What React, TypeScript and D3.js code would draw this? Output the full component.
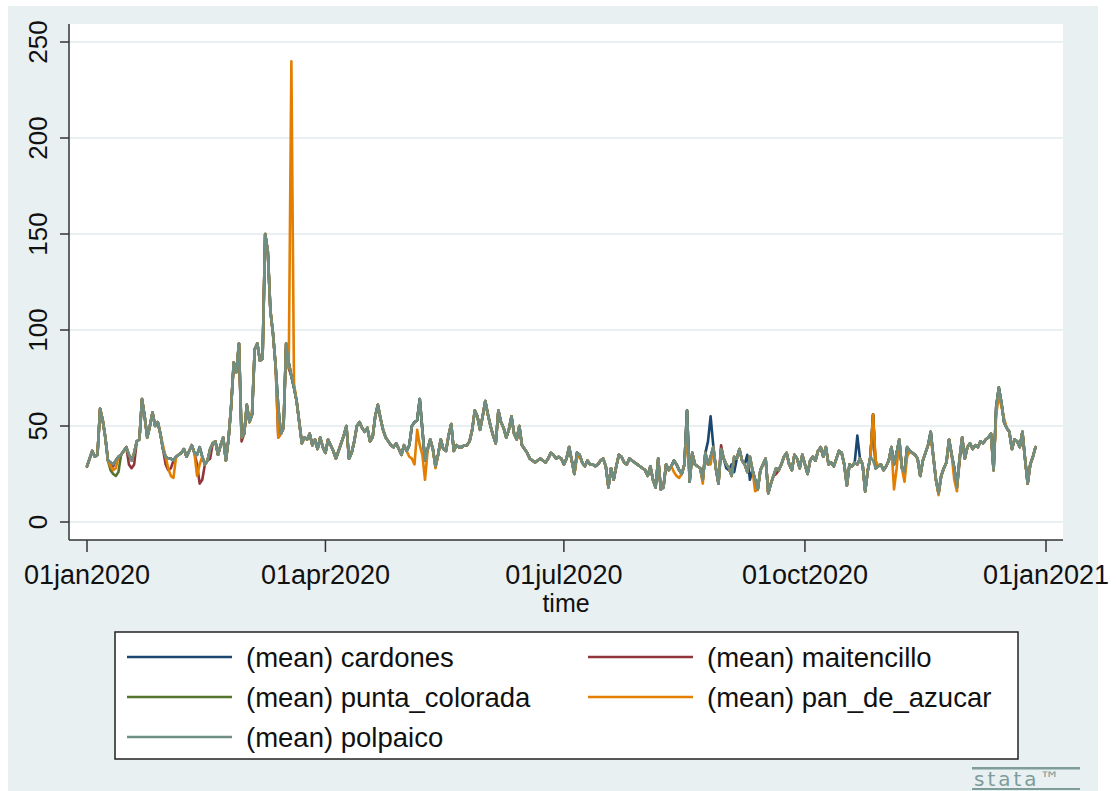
import React from "react";
import * as d3 from "d3";

// Daily readings, 01jan2020 .. 28dec2020 (polpaico, drawn on top)
const polpaico: number[] = [
  29, 33, 37, 34, 35, 59, 53, 44, 32, 31,
  30, 32, 34, 35, 37, 39, 35, 32, 36, 42,
  43, 64, 55, 44, 50, 57, 50, 52, 46, 38,
  34, 33, 33, 32, 34, 35, 36, 38, 34, 37,
  40, 36, 35, 39, 34, 30, 32, 38, 41, 42,
  35, 40, 44, 32, 43, 60, 83, 78, 93, 44,
  46, 61, 52, 56, 90, 93, 84, 85, 150, 141,
  110, 98, 81, 60, 46, 49, 93, 83, 76, 70,
  63, 52, 41, 44, 43, 46, 40, 43, 38, 44,
  39, 36, 43, 40, 37, 33, 37, 41, 45, 50,
  33, 36, 42, 50, 52, 49, 47, 49, 42, 44,
  55, 61, 54, 48, 44, 42, 40, 39, 41, 38,
  35, 40, 37, 40, 50, 52, 53, 64, 48, 32,
  38, 43, 38, 29, 35, 43, 38, 37, 45, 51,
  37, 40, 39, 39, 40, 40, 42, 48, 58, 55,
  48, 55, 63, 56, 50, 45, 41, 58, 52, 49,
  44, 48, 55, 46, 43, 50, 40, 38, 36, 33,
  32, 31, 32, 33, 32, 31, 33, 36, 35, 33,
  34, 33, 30, 33, 39, 32, 25, 36, 35, 31,
  29, 32, 30, 30, 29, 30, 32, 33, 29, 18,
  28, 22, 29, 35, 34, 31, 30, 33, 32, 31,
  30, 29, 28, 27, 24, 29, 22, 18, 33, 17,
  18, 30, 27, 29, 32, 30, 27, 25, 30, 58,
  21, 36, 30, 29, 28, 22, 36, 30, 34, 39,
  28, 20, 38, 33, 30, 28, 24, 34, 33, 38,
  32, 30, 26, 34, 27, 22, 17, 27, 30, 33,
  15, 20, 24, 28, 27, 30, 34, 36, 30, 27,
  35, 33, 28, 35, 30, 25, 32, 34, 32, 37,
  39, 34, 39, 30, 31, 29, 33, 37, 36, 30,
  19, 30, 29, 31, 30, 33, 30, 16, 27, 34,
  32, 28, 29, 30, 27, 29, 32, 39, 30, 36,
  43, 28, 26, 39, 37, 36, 35, 33, 24, 32,
  36, 40, 47, 34, 22, 15, 24, 28, 31, 43,
  35, 28, 18, 33, 44, 33, 39, 41, 38, 40,
  39, 42, 41, 43, 44, 46, 27, 60, 70, 62,
  52, 49, 47, 38, 43, 42, 39, 47, 33, 20,
  30, 34, 39,
];

// Days (index from 01jan2020) where a station's reading differs from polpaico
const cardonesDiffs: [number, number][] = [
  [237, 42], [238, 55], [239, 40], [244, 28], [245, 27], [246, 30], [247, 26],
  [252, 35], [253, 22], [294, 45], [300, 56],
];
const maitencilloDiffs: [number, number][] = [
  [10, 29], [16, 30], [17, 28], [18, 30], [30, 30], [31, 27], [32, 28],
  [42, 30], [43, 20], [44, 22], [47, 33], [59, 42], [73, 44], [77, 80],
  [242, 40], [263, 25], [300, 56], [333, 31],
];
const puntaColoradaDiffs: [number, number][] = [
  [9, 27], [10, 25], [11, 24], [12, 26], [300, 56],
];
const panDeAzucarDiffs: [number, number][] = [
  [9, 29], [10, 27], [11, 28], [29, 40], [31, 28], [32, 24], [33, 23],
  [42, 24], [43, 30], [63, 57], [73, 44], [77, 80], [78, 240], [79, 72],
  [123, 34], [124, 33], [125, 30], [126, 48], [127, 40], [128, 35], [129, 22], [130, 37],
  [133, 28], [187, 33], [224, 26], [225, 24], [226, 23], [229, 46], [230, 22],
  [235, 20], [238, 30], [255, 16], [300, 56], [301, 32], [308, 17], [309, 28],
  [312, 21], [313, 34], [322, 44], [325, 14], [331, 22], [332, 16], [347, 56],
  [348, 66], [349, 60], [350, 54],
];

const seriesNames = [
  "(mean) cardones",
  "(mean) maitencillo",
  "(mean) punta_colorada",
  "(mean) pan_de_azucar",
  "(mean) polpaico",
];
const seriesColors = ["#1a476f", "#90353b", "#55752f", "#e37e00", "#6e8e84"];
const yTicks = [0, 50, 100, 150, 200, 250];
const xTickDates = ["2020-01-01", "2020-04-01", "2020-07-01", "2020-10-01", "2021-01-01"];

const withDiffs = (diffs: [number, number][]) => {
  const v = polpaico.slice();
  diffs.forEach(([d, val]) => (v[d] = val));
  return v;
};
const seriesValues = [
  withDiffs(cardonesDiffs),
  withDiffs(maitencilloDiffs),
  withDiffs(puntaColoradaDiffs),
  withDiffs(panDeAzucarDiffs),
  polpaico,
];

const W = 1116;
const H = 791;
const BG = "#e8f0f2";
const FONT = "'Liberation Sans', Arial, sans-serif";

export default function App() {
  const start = new Date(2020, 0, 1);
  const x = d3.scaleTime().domain([start, new Date(2021, 0, 1)]).range([87, 1046]);
  const y = d3.scaleLinear().domain([0, 250]).range([522, 42]);
  const dayDate = (i: number) => d3.timeDay.offset(start, i);
  const line = d3
    .line<number>()
    .x((_, i) => x(dayDate(i)))
    .y((v) => y(v));
  const fmt = d3.timeFormat("%d%b%Y");
  const parse = d3.timeParse("%Y-%m-%d");

  const plot = { left: 69, right: 1063, top: 24, bottom: 540 };

  const legendRows = [
    { i: 0, col: 0, row: 0 },
    { i: 1, col: 1, row: 0 },
    { i: 2, col: 0, row: 1 },
    { i: 3, col: 1, row: 1 },
    { i: 4, col: 0, row: 2 },
  ];
  const colX = [127, 588];
  const rowY = [657, 697, 737];

  return (
    <svg
      width={W}
      height={H}
      style={{ position: "absolute", left: 0, top: 0, background: "#fff" }}
      fontFamily={FONT}
    >
      <rect x={8} y={6} width={1090} height={H - 6} fill={BG} />
      <rect
        x={plot.left}
        y={plot.top}
        width={plot.right - plot.left}
        height={plot.bottom - plot.top}
        fill="#fff"
      />
      {yTicks.map((t) => (
        <line
          key={"g" + t}
          x1={plot.left}
          x2={plot.right}
          y1={y(t)}
          y2={y(t)}
          stroke={BG}
          strokeWidth={2}
        />
      ))}
      {seriesValues.map((vals, k) => (
        <path
          key={k}
          d={line(vals) || ""}
          fill="none"
          stroke={seriesColors[k]}
          strokeWidth={2.6}
          strokeLinejoin="round"
          strokeLinecap="round"
        />
      ))}
      {/* axes */}
      <line x1={plot.left} x2={plot.left} y1={plot.top} y2={plot.bottom} stroke="#333" strokeWidth={1.5} />
      <line x1={plot.left} x2={plot.right} y1={plot.bottom} y2={plot.bottom} stroke="#333" strokeWidth={1.5} />
      {yTicks.map((t) => (
        <g key={"y" + t}>
          <line x1={60} x2={plot.left} y1={y(t)} y2={y(t)} stroke="#333" strokeWidth={1.5} />
          <text
            transform={`translate(47,${y(t)}) rotate(-90)`}
            textAnchor="middle"
            fontSize={26}
            fill="#111"
          >
            {t}
          </text>
        </g>
      ))}
      {xTickDates.map((s) => {
        const d = parse(s) as Date;
        const px = x(d);
        return (
          <g key={s}>
            <line x1={px} x2={px} y1={plot.bottom} y2={552} stroke="#333" strokeWidth={1.5} />
            <text x={px} y={584} textAnchor="middle" fontSize={27} fill="#111">
              {fmt(d).toLowerCase()}
            </text>
          </g>
        );
      })}
      <text x={566} y={612} textAnchor="middle" fontSize={25} fill="#111">
        time
      </text>
      {/* legend */}
      <rect x={115} y={632} width={903} height={127} fill="#fff" stroke="#222" strokeWidth={1.5} />
      {legendRows.map(({ i, col, row }) => (
        <g key={"l" + i}>
          <line
            x1={colX[col]}
            x2={colX[col] + 105}
            y1={rowY[row]}
            y2={rowY[row]}
            stroke={seriesColors[i]}
            strokeWidth={2.4}
          />
          <text x={colX[col] + 119} y={rowY[row] + 10} fontSize={27.5} fill="#111">
            {seriesNames[i]}
          </text>
        </g>
      ))}
      {/* watermark */}
      <g fill="#7d9c9a" stroke="none">
        <rect x={972} y={767} width={108} height={2.5} />
        <rect x={972} y={788} width={108} height={2} />
        <text x={974} y={786} fontSize={20} letterSpacing={3} fontFamily="'DejaVu Sans', sans-serif">
          stata™
        </text>
      </g>
    </svg>
  );
}
